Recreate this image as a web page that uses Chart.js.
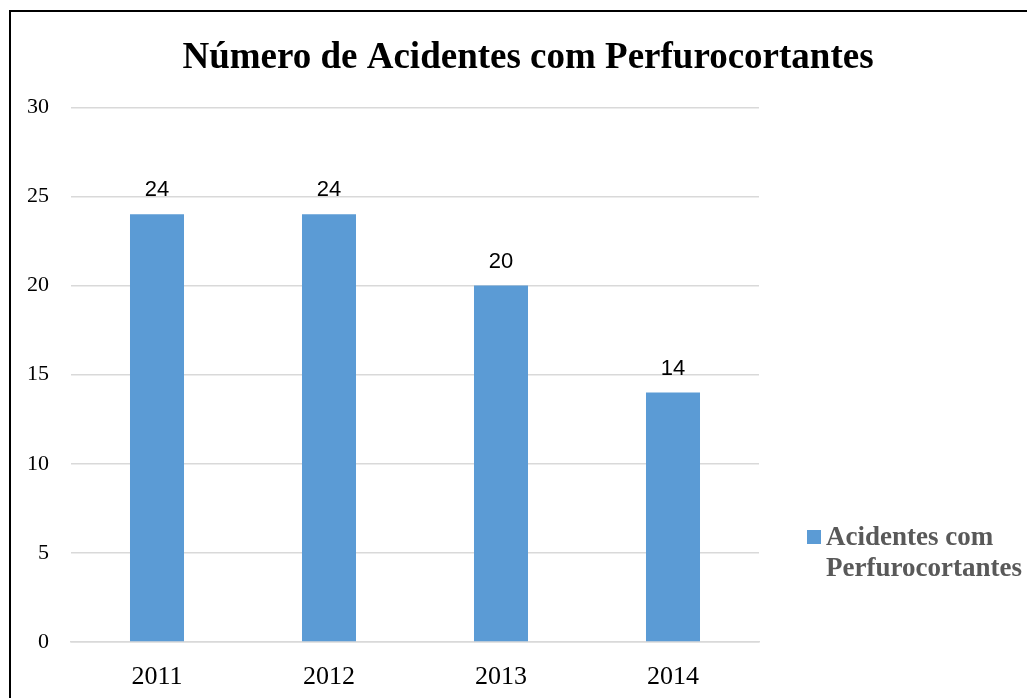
<!DOCTYPE html>
<html>
<head>
<meta charset="utf-8">
<script src="https://cdn.jsdelivr.net/npm/chart.js@4.4.0/dist/chart.umd.min.js"></script>
<style>
  html, body { margin: 0; padding: 0; background: #fff; overflow: hidden; }
  #box {
    position: absolute; left: 9px; top: 10px;
    width: 1038px; height: 720px;
    box-sizing: border-box; border: 2px solid #000;
  }
  #box canvas { display: block; }
</style>
</head>
<body>
<div id="box"><canvas id="chart" width="1034" height="716"></canvas></div>
<script>
// Dados do gráfico
const anos = ['2011', '2012', '2013', '2014'];
const acidentes = [24, 24, 20, 14];
const serieNome = 'Acidentes com Perfurocortantes';
const legendaLinhas = ['Acidentes com', 'Perfurocortantes'];
const titulo = 'Número de Acidentes com Perfurocortantes';

const AZUL = '#5B9BD5';
const SERIF = '"Liberation Serif", "Times New Roman", serif';

// rótulos de valor acima das barras
const rotulos = {
  id: 'rotulos',
  afterDatasetsDraw(chart) {
    const ctx = chart.ctx;
    const meta = chart.getDatasetMeta(0);
    ctx.save();
    ctx.font = '22px "Liberation Sans", Arial, sans-serif';
    ctx.fillStyle = '#000';
    ctx.textAlign = 'center';
    ctx.textBaseline = 'alphabetic';
    meta.data.forEach((bar, i) => {
      ctx.fillText(String(chart.data.datasets[0].data[i]), bar.x, bar.y - 18);
    });
    ctx.restore();
  }
};

// legenda à direita, em duas linhas
const legenda = {
  id: 'legenda',
  afterDraw(chart) {
    const ctx = chart.ctx;
    const ds = chart.data.datasets[0];
    const x = chart.chartArea.right + 48;
    const y = 518;
    ctx.save();
    ctx.fillStyle = ds.backgroundColor;
    ctx.fillRect(x, y, 14, 14);
    ctx.font = 'bold 27px ' + SERIF;
    ctx.fillStyle = '#595959';
    ctx.textBaseline = 'alphabetic';
    legendaLinhas.forEach((t, i) => ctx.fillText(t, x + 19, y + 15 + i * 31));
    ctx.restore();
  }
};

new Chart(document.getElementById('chart'), {
  type: 'bar',
  data: {
    labels: anos,
    datasets: [{
      label: serieNome,
      data: acidentes,
      backgroundColor: AZUL,
      borderWidth: 0,
      categoryPercentage: 1,
      barPercentage: 0.314
    }]
  },
  options: {
    responsive: false,
    animation: false,
    layout: { padding: 0 },
    scales: {
      x: {
        grid: { display: false, drawTicks: false },
        border: { color: '#d9d9d9', width: 1.5 },
        ticks: { color: '#000', padding: 20, font: { family: SERIF, size: 26 } },
        afterFit(scale) { scale.height = 86; }
      },
      y: {
        min: 0, max: 30,
        ticks: { stepSize: 5, color: '#000', padding: 22, font: { family: SERIF, size: 22 } },
        grid: { color: '#d9d9d9', lineWidth: 1.5, drawTicks: false },
        border: { display: false },
        afterFit(scale) { scale.width = 60; }
      },
      // eixo vazio que reserva espaço para a legenda
      espaco: {
        type: 'linear',
        position: 'right',
        display: true,
        grid: { display: false, drawTicks: false },
        border: { display: false },
        ticks: { display: false },
        afterFit(scale) { scale.width = 286; }
      }
    },
    plugins: {
      legend: { display: false },
      tooltip: { enabled: false },
      title: {
        display: true,
        text: titulo,
        color: '#000',
        font: { family: SERIF, size: 37, weight: 'bold' },
        padding: { top: 24, bottom: 27 }
      }
    }
  },
  plugins: [rotulos, legenda]
});
</script>
</body>
</html>
